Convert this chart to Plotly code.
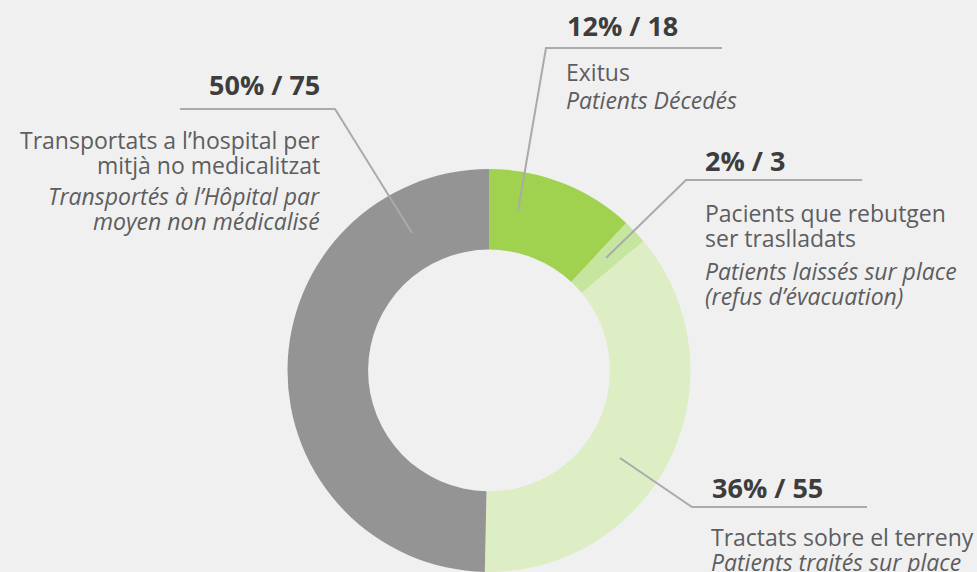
import plotly.graph_objects as go

# ---- data ----
labels_ca = ["Exitus", "Pacients que rebutgen<br>ser traslladats", "Tractats sobre el terreny",
             "Transportats a l’hospital per<br>mitjà no medicalitzat"]
labels_fr = ["Patients Décedés", "Patients laissés sur place<br>(refus d’évacuation)",
             "Patients traités sur place", "Transportés à l’Hôpital par<br>moyen non médicalisé"]
values = [18, 3, 55, 75]
colors = ["#a0d250", "#c6e59f", "#ddedc4", "#949495"]

W, H = 977, 572
BG = "#f0f0f0"
FONT = "Open Sans"
DARK = "#3d3d3d"
TXT = "#5d5d5f"
LINE = "#aaaaaa"
REG = 23
BOLD = 27

def px(x):
    return x / W

def py(y):
    return 1 - y / H

total = sum(values)
pcts = [round(v * 100 / total) for v in values]
heads = [f"<b>{p}% / {v}</b>" for p, v in zip(pcts, values)]

fig = go.Figure(go.Pie(
    values=values,
    labels=[l.replace("<br>", " ") for l in labels_ca],
    marker=dict(colors=colors, line=dict(width=0)),
    hole=0.6,
    sort=False,
    direction="clockwise",
    rotation=0,
    textinfo="none",
    hoverinfo="label+value+percent",
    domain=dict(x=[287.5 / W, 690.5 / W], y=[0, 403 / H]),
    showlegend=False,
))

layout_spec = [
    dict(hx=565, hy=26, xa="left", tx=564, ca_y=72, fr_y=100,
         path=[(518, 211), (546, 48), (722, 48)]),
    dict(hx=703, hy=160, xa="left", tx=703, ca_y=213, fr_y=271,
         path=[(606, 258), (686, 180), (862, 180)]),
    dict(hx=710, hy=487, xa="left", tx=709, ca_y=537, fr_y=562,
         path=[(620, 458), (692, 507), (867, 507)]),
    dict(hx=322, hy=85, xa="right", tx=322, ca_y=140, fr_y=196,
         path=[(412, 233), (335, 109), (180, 109)]),
]

annotations = []
shapes = []
for i, spec in enumerate(layout_spec):
    annotations.append(dict(
        x=px(spec["hx"]), y=py(spec["hy"]), xref="paper", yref="paper",
        text=heads[i], showarrow=False, xanchor=spec["xa"], yanchor="middle",
        font=dict(family=FONT, size=BOLD, color=DARK), align=spec["xa"]))
    for k, t in enumerate(labels_ca[i].split("<br>")):
        annotations.append(dict(
            x=px(spec["tx"]), y=py(spec["ca_y"] + 25 * k), xref="paper", yref="paper",
            text=t, showarrow=False, xanchor=spec["xa"], yanchor="middle",
            font=dict(family=FONT, size=REG, color=TXT), align=spec["xa"]))
    for k, t in enumerate(labels_fr[i].split("<br>")):
        annotations.append(dict(
            x=px(spec["tx"]), y=py(spec["fr_y"] + 25 * k), xref="paper", yref="paper",
            text=f"<i>{t}</i>", showarrow=False, xanchor=spec["xa"], yanchor="middle",
            font=dict(family=FONT, size=REG, color=TXT), align=spec["xa"]))
    d = "M " + " L ".join(f"{px(x):.5f},{py(y):.5f}" for x, y in spec["path"])
    shapes.append(dict(type="path", path=d, xref="paper", yref="paper",
                       line=dict(color=LINE, width=2)))

fig.update_layout(
    width=W, height=H,
    margin=dict(l=0, r=0, t=0, b=0),
    paper_bgcolor=BG, plot_bgcolor=BG,
    annotations=annotations, shapes=shapes,
)

fig.write_html(
    "out.html",
    config={"displayModeBar": False},
    post_script="document.body.style.margin='0';document.body.style.background='#f0f0f0';"
                "document.body.style.overflow='hidden';",
)
